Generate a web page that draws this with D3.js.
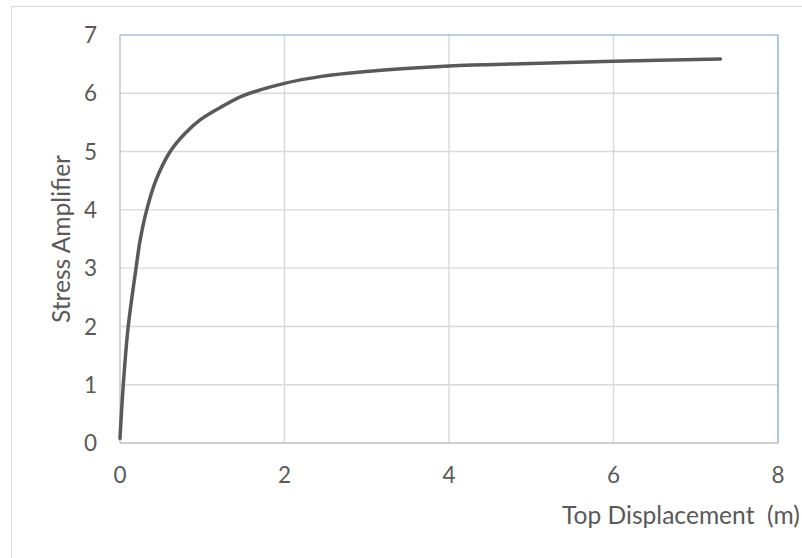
<!DOCTYPE html>
<html><head><meta charset="utf-8">
<script src="https://cdn.jsdelivr.net/npm/d3@7"></script>
<style>
html,body{margin:0;padding:0;background:#fff;}
svg{display:block;font-family:Lato,"Open Sans",sans-serif;}
</style></head>
<body><svg id="c" width="802" height="558"></svg>
<script>
const displacement = [0.0, 0.04, 0.10, 0.195, 0.245, 0.325, 0.435, 0.61, 0.79, 0.97, 1.25, 1.5, 2.0, 2.45, 2.96, 4.0, 5.0, 6.0, 7.3];
const amplifier    = [0.08, 1.0, 2.0, 3.0, 3.48, 4.0, 4.5, 5.0, 5.31, 5.54, 5.78, 5.96, 6.17, 6.29, 6.37, 6.47, 6.51, 6.55, 6.59];
const xTicks = [0, 2, 4, 6, 8];
const yTicks = [0, 1, 2, 3, 4, 5, 6, 7];
const xTitle = "Top Displacement  (m)";
const yTitle = "Stress Amplifier";

const svg = d3.select("#c");
const L = 120, R = 778, T = 35, B = 443;
const x = d3.scaleLinear().domain([0, 8]).range([L, R]);
const y = d3.scaleLinear().domain([0, 7]).range([B, T]);
const txt = "#595959";

svg.append("rect").attr("x", 11.5).attr("y", 6.5).attr("width", 800).attr("height", 560)
  .attr("fill", "#fff").attr("stroke", "#d9d9d9").attr("stroke-width", 1);

// gridlines
svg.append("g").selectAll("line").data(yTicks.slice(1, -1)).join("line")
  .attr("x1", L).attr("x2", R).attr("y1", d => y(d)).attr("y2", d => y(d))
  .attr("stroke", "#d9d9d9").attr("stroke-width", 1.4);
svg.append("g").selectAll("line").data(xTicks.slice(1, -1)).join("line")
  .attr("y1", T).attr("y2", B).attr("x1", d => x(d)).attr("x2", d => x(d))
  .attr("stroke", "#d9d9d9").attr("stroke-width", 1.4);

// frame: top & right bluish, left & bottom gray axis
svg.append("line").attr("x1", L).attr("x2", R).attr("y1", T).attr("y2", T).attr("stroke", "#7f9fd0").attr("stroke-width", 1.2);
svg.append("line").attr("x1", R).attr("x2", R).attr("y1", T).attr("y2", B).attr("stroke", "#8eaadb").attr("stroke-width", 1.4);
svg.append("line").attr("x1", L).attr("x2", L).attr("y1", T).attr("y2", B).attr("stroke", "#c8c8c8").attr("stroke-width", 1.6);
svg.append("line").attr("x1", L).attr("x2", R).attr("y1", B).attr("y2", B).attr("stroke", "#bfbfbf").attr("stroke-width", 1.6);

// tick labels
svg.append("g").selectAll("text").data(yTicks).join("text")
  .attr("x", 97).attr("y", d => y(d)).attr("dy", "0.36em").attr("text-anchor", "end")
  .attr("font-size", 22.5).attr("fill", txt).text(d => d);
svg.append("g").selectAll("text").data(xTicks).join("text")
  .attr("x", d => x(d)).attr("y", 482.5).attr("text-anchor", "middle")
  .attr("font-size", 22.5).attr("fill", txt).text(d => d);

// titles
svg.append("text").attr("x", 562).attr("y", 524).attr("font-size", 24.6).attr("fill", txt)
  .style("white-space", "pre").text(xTitle);
svg.append("text").attr("transform", `translate(70,${(T + B) / 2}) rotate(-90)`)
  .attr("text-anchor", "middle").attr("font-size", 24.6).attr("fill", txt).text(yTitle);

// curve
const pts = displacement.map((d, i) => [d, amplifier[i]]);
svg.append("path").datum(pts)
  .attr("d", d3.line().x(d => x(d[0])).y(d => y(d[1])).curve(d3.curveCatmullRom.alpha(0.5)))
  .attr("fill", "none").attr("stroke", "#595959").attr("stroke-width", 3.5).attr("stroke-linecap", "round");
</script></body></html>
